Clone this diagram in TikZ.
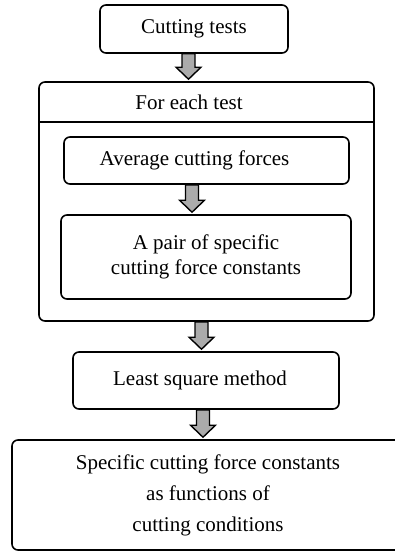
\documentclass[tikz,border=0pt]{standalone}
\usepackage{fontspec}
\setmainfont{Liberation Serif}
\usetikzlibrary{calc}
\begin{document}
\begin{tikzpicture}[x=1pt,y=-1pt,
    every node/.style={font=\rmfamily\fontsize{21}{25}\selectfont},
    box/.style={draw, line width=1.6pt, rounded corners=6pt, align=center, inner sep=0pt},
    fatarrow/.style={draw, line width=1.4pt, fill=black!33, to path={
        let \p1=(\tikztostart), \p2=(\tikztotarget) in
        (\x1-6.5pt,\y1) -- (\x1+6.5pt,\y1) -- (\x1+6.5pt,\y2+14pt) -- (\x1+12.5pt,\y2+14pt)
        -- (\x1,\y2+2pt) -- (\x1-12.5pt,\y2+14pt) -- (\x1-6.5pt,\y2+14pt) -- cycle}}]
  \useasboundingbox (0,0) rectangle (394,551);
  \node[box, minimum width=188pt, minimum height=48pt] (tests) at (194,29) {Cutting tests};
  \node[box, minimum width=335pt, minimum height=239pt] (each) at (206.5,201.5) {};
  \node (eachtitle) at (189,102) {For each test};
  \coordinate (split) at (0,122);
  \draw[line width=1.6pt] (split -| each.west) -- (split -| each.east);
  \node[box, minimum width=285pt, minimum height=47pt] (avg) at (206.5,160.5) {Average cutting forces\rule{24pt}{0pt}};
  \node[box, minimum width=290pt, minimum height=84pt] (pair) at (206,257) {A pair of specific\\cutting force constants};
  \node[box, minimum width=266pt, minimum height=57pt] (least) at (206,380.5) {Least square method\rule{12pt}{0pt}};
  \node[box, minimum width=392pt, minimum height=110pt] (spec) at (208,495) {Specific cutting force constants\\[6pt]as functions of\\[6pt]cutting conditions};
  \foreach \from/\to/\dx in {tests/each/-5.5, avg/pair/-14.5, each/least/-5, least/spec/-3}
    \draw[fatarrow] ([xshift=\dx pt]\from.south) to (\to.north);
\end{tikzpicture}
\end{document}
